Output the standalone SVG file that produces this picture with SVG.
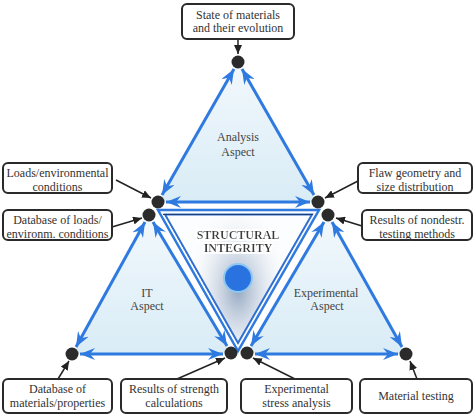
<svg xmlns="http://www.w3.org/2000/svg" width="474" height="420" viewBox="0 0 474 420">
<defs>
<style>
text{font-family:'Liberation Serif','Times New Roman','DejaVu Serif',serif}
.box{fill:#fff;stroke:#2a2a2a;stroke-width:2}
.bt{font-size:12px;fill:#333;text-anchor:middle}
.at{font-size:12px;fill:#444;text-anchor:middle}
.st{font-size:12px;font-weight:bold;fill:#3a3a3a;text-anchor:middle}
.ba{stroke:#2f7ae0;stroke-width:3;fill:none;marker-start:url(#bh);marker-end:url(#bh)}
.ka{stroke:#222;stroke-width:1.5;fill:none;marker-end:url(#kh)}
.dot{fill:#2b2b2b}
</style>
<marker id="bh" markerUnits="userSpaceOnUse" markerWidth="16" markerHeight="12" viewBox="0 0 16 12" refX="15" refY="6" orient="auto-start-reverse">
<path d="M0,0 L15,6 L0,12 L5,6 z" fill="#2f7ae0"/>
</marker>
<marker id="kh" markerUnits="userSpaceOnUse" markerWidth="10" markerHeight="8" viewBox="0 0 10 8" refX="9" refY="4" orient="auto">
<path d="M0,0 L9,4 L0,8 z" fill="#222"/>
</marker>
<linearGradient id="tri" x1="0" y1="0" x2="0" y2="1">
<stop offset="0" stop-color="#f2f8fc"/>
<stop offset="1" stop-color="#d9ecf6"/>
</linearGradient>
<radialGradient id="glow" cx="238" cy="290" r="75" gradientUnits="userSpaceOnUse" gradientTransform="translate(238 290) scale(0.7 1.2) translate(-238 -290)">
<stop offset="0" stop-color="#8298b6" stop-opacity="0.85"/>
<stop offset="0.45" stop-color="#b3c2d6" stop-opacity="0.45"/>
<stop offset="1" stop-color="#ffffff" stop-opacity="0"/>
</radialGradient>
<filter id="wg" x="-20%" y="-50%" width="140%" height="200%">
<feMorphology in="SourceAlpha" operator="dilate" radius="1.5" result="d"/>
<feFlood flood-color="#fff"/>
<feComposite in2="d" operator="in" result="w"/>
<feMerge><feMergeNode in="w"/><feMergeNode in="SourceGraphic"/></feMerge>
</filter>
</defs>
<rect width="474" height="420" fill="#fff"/>

<g id="triangles">
<polygon points="238,62 158,202 318,202" fill="url(#tri)"/>
<polygon points="149,215 72,354 231,353" fill="url(#tri)"/>
<polygon points="328,215 247,353 406,354" fill="url(#tri)"/>
<polygon points="158,210 319,210 238,351" fill="#fcfdfe"/>
<polygon points="165,214 312,214 238,343" fill="url(#glow)"/>
</g>

<g id="connectors">
<line class="ba" x1="234" y1="69" x2="162" y2="195"/>
<line class="ba" x1="242" y1="69" x2="314" y2="195"/>
<line class="ba" x1="166" y1="202" x2="310" y2="202"/>
<line class="ba" x1="145" y1="222" x2="76" y2="347"/>
<line class="ba" x1="153" y1="222" x2="227" y2="346"/>
<line class="ba" x1="80" y1="354" x2="223" y2="354"/>
<line class="ba" x1="324" y1="222" x2="251" y2="346"/>
<line class="ba" x1="332" y1="222" x2="402" y2="347"/>
<line class="ba" x1="255" y1="354" x2="398" y2="354"/>
<polygon points="158,210 319,210 238,351" fill="none" stroke="#2f7ae0" stroke-width="2.5"/>
<polygon points="165,214.5 312,214.5 238,343" fill="none" stroke="#2f6fd0" stroke-width="2"/>
<line x1="162" y1="212.5" x2="238" y2="347" stroke="#fff" stroke-width="1.2" stroke-dasharray="2,2"/>
<line x1="163" y1="214.5" x2="313" y2="214.5" stroke="#1d3f73" stroke-width="1.2"/>
<line class="ka" x1="238" y1="39" x2="238" y2="54"/>
<line class="ka" x1="116" y1="180" x2="151" y2="198"/>
<line class="ka" x1="112" y1="227" x2="142" y2="218"/>
<line class="ka" x1="358" y1="181" x2="325" y2="198"/>
<line class="ka" x1="362" y1="226" x2="336" y2="218"/>
<line class="ka" x1="58" y1="379" x2="69" y2="361"/>
<line class="ka" x1="177" y1="379" x2="225" y2="358"/>
<line class="ka" x1="295" y1="379" x2="253" y2="358"/>
<line class="ka" x1="417" y1="379" x2="410" y2="361"/>
</g>

<g id="dots">
<circle class="dot" cx="238" cy="62" r="6.5"/>
<circle class="dot" cx="158" cy="202" r="6.5"/>
<circle class="dot" cx="318" cy="202" r="6.5"/>
<circle class="dot" cx="149" cy="215" r="6.5"/>
<circle class="dot" cx="328" cy="215" r="6.5"/>
<circle class="dot" cx="72" cy="354" r="6.5"/>
<circle class="dot" cx="231" cy="353" r="6.5"/>
<circle class="dot" cx="247" cy="353" r="6.5"/>
<circle class="dot" cx="406" cy="354" r="6.5"/>
</g>

<g id="center">
<circle cx="238" cy="278" r="14" fill="#2a72e0" stroke="#8cc8f2" stroke-width="2"/>
<g filter="url(#wg)">
<text class="st" x="238" y="238.5">STRUCTURAL</text>
<text class="st" x="238" y="251.5">INTEGRITY</text>
</g>
</g>

<g id="analysis-aspect"><text class="at" x="238" y="141">Analysis</text><text class="at" x="238" y="156">Aspect</text></g>
<g id="it-aspect"><text class="at" x="147" y="297">IT</text><text class="at" x="147" y="310">Aspect</text></g>
<g id="experimental-aspect"><text class="at" x="326" y="297">Experimental</text><text class="at" x="327" y="310">Aspect</text></g>

<g id="state-of-materials"><rect class="box" x="182" y="4" width="112" height="35" rx="5"/><text class="bt" x="238" y="19">State of materials</text><text class="bt" x="238" y="32">and their evolution</text></g>
<g id="loads"><rect class="box" x="3" y="163" width="109" height="30" rx="5"/><text class="bt" x="57.5" y="177">Loads/environmental</text><text class="bt" x="57.5" y="190.5">conditions</text></g>
<g id="database-loads"><rect class="box" x="3" y="210" width="109" height="30" rx="5"/><text class="bt" x="57.5" y="224">Database of loads/</text><text class="bt" x="57.5" y="237.5">environm. conditions</text></g>
<g id="flaw"><rect class="box" x="358" y="163" width="114" height="30" rx="5"/><text class="bt" x="415" y="177">Flaw geometry and</text><text class="bt" x="415" y="190.5">size distribution</text></g>
<g id="nondestr"><rect class="box" x="362" y="210" width="110" height="30" rx="5"/><text class="bt" x="417" y="224">Results of nondestr.</text><text class="bt" x="417" y="237.5">testing methods</text></g>
<g id="database-materials"><rect class="box" x="3" y="379" width="109" height="34" rx="5"/><text class="bt" x="57.5" y="393">Database of</text><text class="bt" x="57.5" y="407">materials/properties</text></g>
<g id="strength"><rect class="box" x="121" y="379" width="106" height="34" rx="5"/><text class="bt" x="174" y="393">Results of strength</text><text class="bt" x="174" y="407">calculations</text></g>
<g id="exp-stress"><rect class="box" x="241" y="379" width="111" height="34" rx="5"/><text class="bt" x="296.5" y="393">Experimental</text><text class="bt" x="296.5" y="407">stress analysis</text></g>
<g id="material-testing"><rect class="box" x="360" y="379" width="112" height="34" rx="5"/><text class="bt" x="416" y="400">Material testing</text></g>
</svg>
